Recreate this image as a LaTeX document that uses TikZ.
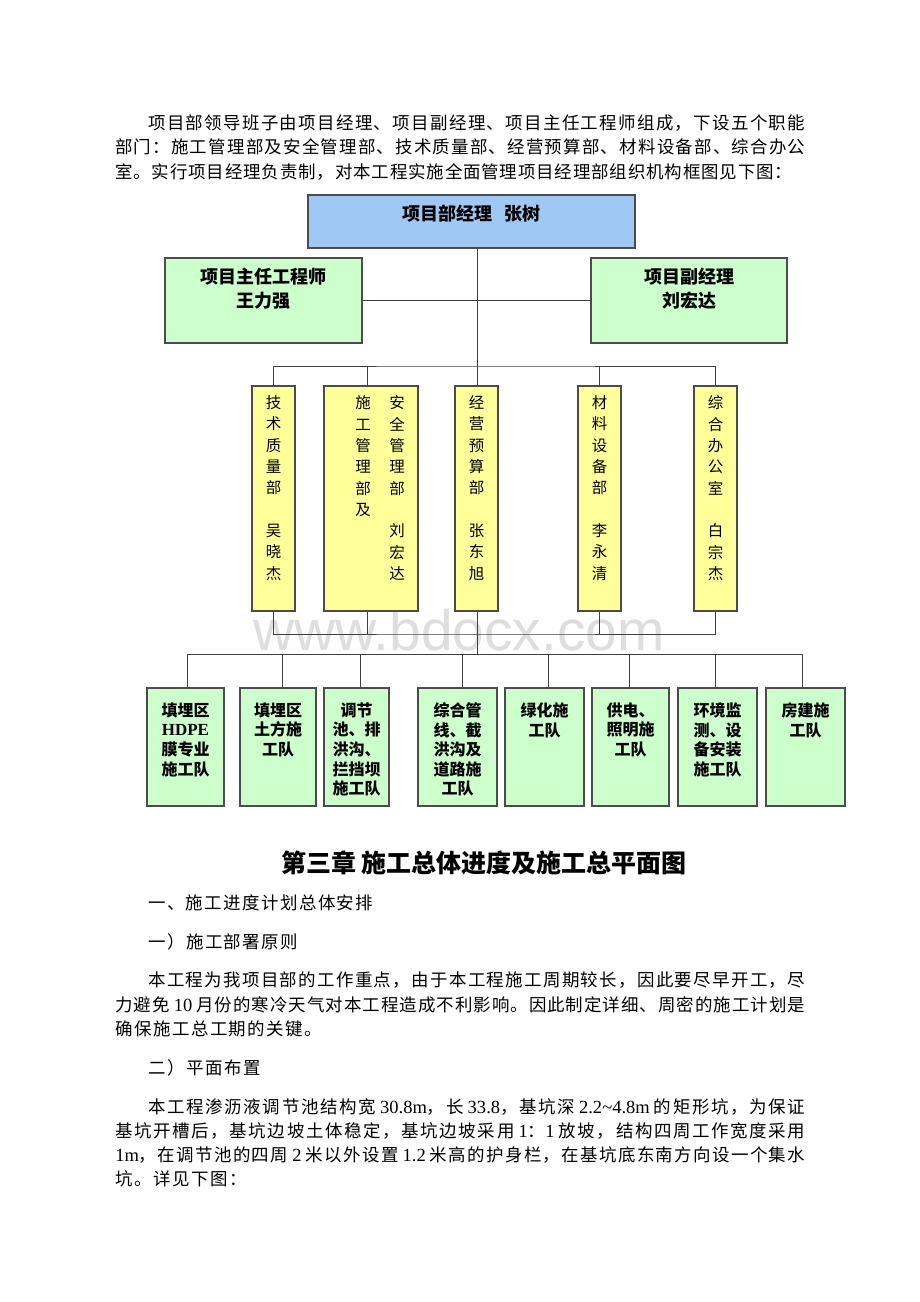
\documentclass[tikz,border=0pt]{standalone}
\usepackage{fontspec}
\setmainfont{Noto Sans CJK SC}
\newfontfamily\lat{Liberation Serif}[Scale=1.06]
\newfontfamily\wmfont{Liberation Sans}
\usetikzlibrary{positioning}

% glue between CJK characters, so a line can be set to full measure
\XeTeXinterchartokenstate=1
\newXeTeXintercharclass\hancls
\newcount\hanc
\hanc="3000
\loop\ifnum\hanc<"A000 \XeTeXcharclass\hanc=\hancls \advance\hanc by 1 \repeat
\hanc="FF00
\loop\ifnum\hanc<"FFF0 \XeTeXcharclass\hanc=\hancls \advance\hanc by 1 \repeat
\XeTeXinterchartoks\hancls\hancls={\hskip 0pt plus 10pt\relax}

\newlength\px
\setlength\px{0.75pt}

\definecolor{pmblue}{RGB}{160,200,245}
\definecolor{leadgreen}{RGB}{204,255,204}
\definecolor{deptyellow}{RGB}{255,255,153}
\definecolor{teamgreen}{RGB}{204,255,204}
\definecolor{wmgray}{RGB}{222,222,222}

\newcommand\bodyfont{\fontsize{13.1pt}{18pt}\selectfont}
\newcommand\headfont{\fontsize{18.75pt}{24pt}\selectfont\bfseries}
\newcommand\pmfont{\fontsize{13.5pt}{18pt}\selectfont\bfseries}
\newcommand\leadfont{\fontsize{13.5pt}{18pt}\selectfont\bfseries}
\newcommand\deptfont{\fontsize{11.6pt}{16pt}\selectfont}
\newcommand\teamfont{\fontsize{12pt}{14.7pt}\selectfont\bfseries}

\tikzset{
  box/.style={draw=black!70, line width=0.9pt, inner sep=0pt},
  pmbox/.style={box, fill=pmblue, minimum width=327\px, minimum height=53\px},
  leadbox/.style={box, fill=leadgreen, minimum width=197\px, minimum height=85\px},
  deptbox/.style={box, fill=deptyellow, minimum width=43\px, minimum height=225\px},
  teambox/.style={box, fill=teamgreen, minimum height=118\px},
  boxtext/.style={inner sep=0pt, align=center},
  link/.style={draw=black!75, line width=0.75pt},
  bodyline/.style={anchor=west, inner sep=0pt, font=\bodyfont},
}

\begin{document}
\begin{tikzpicture}[x=0.75pt, y=-0.75pt]
  \path[use as bounding box, fill=white] (0,0) rectangle (920,1302);
  % watermark
  \node[font=\wmfont\fontsize{42.7pt}{44pt}\selectfont, text=wmgray, inner sep=0pt] (wmark) at (459,630) {www.bdocx.com};

  % opening paragraph
  \node[bodyline] (p1a) at (148,123) {\makebox[657\px][s]{项目部领导班子由项目经理、项目副经理、项目主任工程师组成，下设五个职能}};
  \node[bodyline] (p1b) at (115,147) {\makebox[690\px][s]{部门：施工管理部及安全管理部、技术质量部、经营预算部、材料设备部、综合办公}};
  \node[bodyline] (p1c) at (115,172) {\makebox[677\px][s]{室。实行项目经理负责制，对本工程实施全面管理项目经理部组织机构框图见下图：}};

  % leaders
  \node[pmbox] (pm) at (471.5,221.5) {};
  \node[boxtext, font=\pmfont, below=7.5pt of pm.north] (pm-t) {项目部经理\hspace{9pt}张树};
  \node[leadbox] (zr) at (263.5,300.5) {};
  \node[boxtext, font=\leadfont, below=7.5pt of zr.north] (zr-t) {项目主任工程师\\王力强};
  \node[leadbox, minimum width=196\px] (fjl) at (689,300.5) {};
  \node[boxtext, font=\leadfont, below=7.5pt of fjl.north] (fjl-t) {项目副经理\\刘宏达};

  % departments
  \node[deptbox] (jszl) at (273.5,498.5) {};
  \node[boxtext, font=\deptfont, below=7.5pt of jszl.north] (jszl-t) {技\\术\\质\\量\\部\\[16pt]吴\\晓\\杰};
  \node[deptbox, minimum width=94\px] (sg) at (371,498.5) {};
  \node[boxtext, font=\deptfont, below=7.5pt of sg.north, xshift=-8\px] (sg-l) {施\\工\\管\\理\\部\\及};
  \node[boxtext, font=\deptfont, below=7.5pt of sg.north, xshift=26\px] (sg-r) {安\\全\\管\\理\\部\\[16pt]刘\\宏\\达};
  \node[deptbox] (jyys) at (476.5,498.5) {};
  \node[boxtext, font=\deptfont, below=7.5pt of jyys.north] (jyys-t) {经\\营\\预\\算\\部\\[16pt]张\\东\\旭};
  \node[deptbox] (clsb) at (599.5,498.5) {};
  \node[boxtext, font=\deptfont, below=7.5pt of clsb.north] (clsb-t) {材\\料\\设\\备\\部\\[16pt]李\\永\\清};
  \node[deptbox] (zhbg) at (715.5,498.5) {};
  \node[boxtext, font=\deptfont, below=7.5pt of zhbg.north] (zhbg-t) {综\\合\\办\\公\\室\\[16pt]白\\宗\\杰};

  % work teams
  \node[teambox, minimum width=77\px] (tA) at (185.5,747) {};
  \node[boxtext, font=\teamfont, below=11.25pt of tA.north] (tA-t) {填埋区\\{\lat HDPE}\\膜专业\\施工队};
  \node[teambox, minimum width=76\px] (tB) at (278,747) {};
  \node[boxtext, font=\teamfont, below=11.25pt of tB.north] (tB-t) {填埋区\\土方施\\工队};
  \node[teambox, minimum width=65\px] (tC) at (356.5,747) {};
  \node[boxtext, font=\teamfont, below=11.25pt of tC.north] (tC-t) {调节\\池、排\\洪沟、\\拦挡坝\\施工队};
  \node[teambox, minimum width=79\px] (tD) at (457.5,747) {};
  \node[boxtext, font=\teamfont, below=11.25pt of tD.north] (tD-t) {综合管\\线、截\\洪沟及\\道路施\\工队};
  \node[teambox, minimum width=79\px] (tE) at (544.5,747) {};
  \node[boxtext, font=\teamfont, below=11.25pt of tE.north] (tE-t) {绿化施\\工队};
  \node[teambox, minimum width=77\px] (tF) at (630.5,747) {};
  \node[boxtext, font=\teamfont, below=11.25pt of tF.north] (tF-t) {供电、\\照明施\\工队};
  \node[teambox, minimum width=79\px] (tG) at (717.5,747) {};
  \node[boxtext, font=\teamfont, below=11.25pt of tG.north] (tG-t) {环境监\\测、设\\备安装\\施工队};
  \node[teambox, minimum width=79\px] (tH) at (805.5,747) {};
  \node[boxtext, font=\teamfont, below=11.25pt of tH.north] (tH-t) {房建施\\工队};

  % connectors
  \coordinate (bus1) at (477,366);
  \coordinate (bus2) at (477,634);
  \coordinate (bus3) at (477,654);
  \coordinate (sgtop) at (367,366);
  \coordinate (sgbot) at (367,634);
  \draw[link] (pm.south -| bus1) -- (bus1);
  \draw[link] (zr.east) -- (fjl.west);
  \draw[link] (jszl.north) |- (bus1) -| (zhbg.north);
  \draw[link] (bus1) -- (bus1 |- jyys.north);
  \draw[link] (clsb.north) -- (clsb.north |- bus1);
  \draw[link] (sgtop) -- (sgtop |- sg.north);
  \draw[link] (jszl.south) |- (bus2) -| (zhbg.south);
  \draw[link] (sgbot |- sg.south) -- (sgbot);
  \draw[link] (clsb.south) -- (clsb.south |- bus2);
  \draw[link] (jyys.south -| bus3) -- (bus3);
  \foreach \t/\x in {tA/187,tB/282,tC/360,tD/462,tE/548,tF/629,tG/715,tH/802} {
    \coordinate (d\t) at (\x,654);
    \draw[link] (d\t) -- (d\t |- \t.north);
  }
  \draw[link] (dtA) -- (dtH);

  % chapter three
  \node[font=\headfont] (ch3) at (484,863) {第三章 施工总体进度及施工总平面图};
  \node[bodyline] (s1) at (148,903) {\makebox[225\px][s]{一、施工进度计划总体安排}};
  \node[bodyline] (s11) at (148,942) {\makebox[150\px][s]{一）施工部署原则}};
  \node[bodyline] (p2a) at (148,980) {\makebox[657\px][s]{本工程为我项目部的工作重点，由于本工程施工周期较长，因此要尽早开工，尽}};
  \node[bodyline] (p2b) at (115,1005) {\makebox[690\px][s]{力避免 {\lat 10} 月份的寒冷天气对本工程造成不利影响。因此制定详细、周密的施工计划是}};
  \node[bodyline] (p2c) at (115,1029) {\makebox[207\px][s]{确保施工总工期的关键。}};
  \node[bodyline] (s12) at (148,1068) {\makebox[113\px][s]{二）平面布置}};
  \node[bodyline] (p3a) at (148,1107) {\makebox[657\px][s]{本工程渗沥液调节池结构宽 {\lat 30.8m}，长 {\lat 33.8}，基坑深 {\lat 2.2\textasciitilde4.8m} 的矩形坑，为保证}};
  \node[bodyline] (p3b) at (115,1131) {\makebox[690\px][s]{基坑开槽后，基坑边坡土体稳定，基坑边坡采用 {\lat 1}：{\lat 1} 放坡，结构四周工作宽度采用}};
  \node[bodyline] (p3c) at (115,1155) {\makebox[690\px][s]{{\lat 1m}，在调节池的四周 {\lat 2} 米以外设置 {\lat 1.2} 米高的护身栏，在基坑底东南方向设一个集水}};
  \node[bodyline] (p3d) at (115,1179) {\makebox[132\px][s]{坑。详见下图：}};
\end{tikzpicture}
\end{document}
